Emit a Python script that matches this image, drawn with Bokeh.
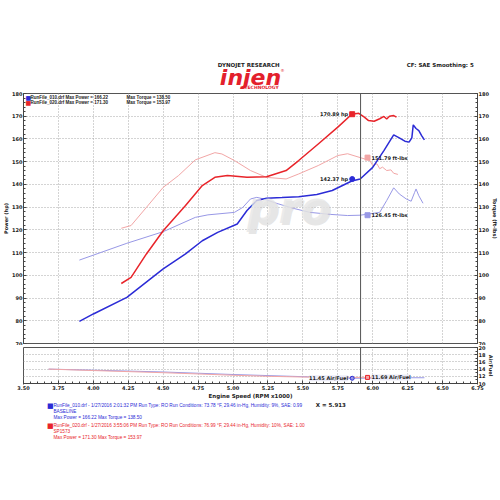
from bokeh.plotting import figure
from bokeh.models import Range1d, LinearAxis, FixedTicker, Span, Label, Grid, NumeralTickFormatter
from bokeh.layouts import column
from bokeh.embed import file_html
from bokeh.resources import INLINE
from bokeh.core.properties import value

# ---------------- data ----------------
X_TICKS = [3.50, 3.75, 4.00, 4.25, 4.50, 4.75, 5.00, 5.25, 5.50, 5.75, 6.00, 6.25, 6.50, 6.75]
HP_TICKS = [70, 80, 90, 100, 110, 120, 130, 140, 150, 160, 170, 180]
AF_TICKS = [10, 12, 14, 16, 18, 20]

BLUE_HP_RPM = [3.90, 4.00, 4.24, 4.50, 4.66, 4.78, 4.89, 5.03, 5.10, 5.17, 5.24, 5.35, 5.47, 5.60, 5.71,
               5.85, 5.91, 6.00, 6.08, 6.15, 6.19, 6.23, 6.26, 6.28, 6.29, 6.31, 6.33, 6.35, 6.37]
BLUE_HP = [79.7, 83.0, 90.3, 102.8, 109.4, 115.2, 118.9, 122.6, 128.5, 132.9, 133.9, 134.2, 134.6, 135.6, 137.3,
           141.5, 142.4, 147.5, 154.9, 161.8, 160.5, 159.0, 158.6, 160.5, 166.2, 164.6, 163.7, 161.5, 159.6]

RED_HP_RPM = [4.20, 4.27, 4.38, 4.50, 4.66, 4.78, 4.87, 4.96, 5.10, 5.24, 5.38, 5.47, 5.61, 5.75, 5.85,
              5.90, 5.94, 5.97, 6.01, 6.05, 6.08, 6.10, 6.12, 6.15, 6.17]
RED_HP = [96.4, 99.1, 109.4, 119.6, 130.7, 139.5, 143.1, 143.9, 143.1, 143.4, 146.1, 150.5, 157.8, 165.2, 170.9,
          171.3, 169.6, 168.1, 167.8, 168.9, 169.9, 168.8, 170.0, 170.3, 169.6]

BLUE_TQ_RPM = [3.90, 4.24, 4.50, 4.73, 4.82, 5.01, 5.07, 5.125, 5.17, 5.22, 5.31, 5.43, 5.55, 5.70, 5.82,
               5.91, 6.05, 6.10, 6.15, 6.19, 6.24, 6.275, 6.30, 6.31, 6.33, 6.36]
BLUE_TQ = [106.7, 114.1, 119.2, 125.5, 126.6, 127.7, 129.9, 133.6, 134.3, 133.6, 131.7, 129.5, 127.7, 126.8, 126.3,
           126.45, 127.7, 132.9, 138.5, 135.8, 133.6, 132.6, 136.5, 138.0, 135.0, 131.7]

RED_TQ_RPM = [4.20, 4.27, 4.38, 4.50, 4.61, 4.73, 4.87, 4.92, 5.01, 5.125, 5.24, 5.38, 5.47, 5.61, 5.75, 5.82,
              5.91, 5.98, 6.00, 6.03, 6.05, 6.07, 6.10, 6.13, 6.15, 6.18]
RED_TQ = [120.7, 121.9, 129.9, 138.7, 143.9, 150.8, 153.97, 153.4, 150.5, 146.1, 143.1, 142.4, 144.6, 148.3, 152.7, 153.5,
          151.8, 150.5, 148.3, 149.1, 146.9, 147.6, 146.1, 146.4, 144.9, 144.4]

BLUE_AF_RPM = [3.68, 4.00, 4.50, 5.00, 5.25, 5.50, 5.75, 5.85, 6.00, 6.20, 6.37]
BLUE_AF = [14.0, 13.7, 13.2, 12.5, 12.2, 11.9, 11.6, 11.45, 11.5, 11.6, 11.6]
RED_AF_RPM = [3.68, 4.00, 4.50, 5.00, 5.25, 5.50, 5.75, 5.96, 6.17]
RED_AF = [14.0, 13.6, 13.0, 12.3, 12.0, 11.8, 11.7, 11.69, 11.7]

CURSOR = 5.913
READ_HP = [142.37, 170.89]
READ_TQ = [126.45, 151.79]
READ_AF = [11.45, 11.69]

RUN_TEXT = [
    ["RunFile_010.drf - 1/27/2016 2:01:32 PM  Run Type: RO  Run Conditions: 73.78 °F, 29.46 in-Hg,  Humidity:  9%,  SAE: 0.99",
     "BASELINE", "Max Power = 166.22  Max Torque = 138.50"],
    ["RunFile_020.drf - 1/27/2016 3:55:06 PM  Run Type: RO  Run Conditions: 76.99 °F, 29.44 in-Hg,  Humidity:  10%,  SAE: 1.00",
     "SP1573", "Max Power = 171.30  Max Torque = 153.97"],
]

# ---------------- styling / layout ----------------
BLUE = "#2b2bd6"
RED = "#e8242a"
BLUE_L = "#9898e6"
RED_L = "#f2a6a6"
FONT = "DejaVu Sans"

W = 500
LB, RB = 18, 18
HEAD_H = 91
FH1, TOP1, BOT1 = 250, 2, 2
FH2, TOP2, BOT2 = 39, 2, 15
H1 = TOP1 + FH1 + BOT1
H2 = TOP2 + FH2 + BOT2
LEG_Y0 = HEAD_H + H1 + H2
LEG_H = 500 - LEG_Y0

GRID_KW = dict(grid_line_color="#a8a8a8", grid_line_dash="1 2", grid_line_width=1)


def xpix(rpm):
    return LB + (rpm - X_TICKS[0]) / (X_TICKS[-1] - X_TICKS[0]) * (W - LB - RB)


def style_axis(ax, label_size="5px"):
    ax.axis_line_color = "#444444"
    ax.major_tick_line_color = "#444444"
    ax.minor_tick_line_color = "#444444"
    ax.major_tick_in = 3
    ax.major_tick_out = 0
    ax.minor_tick_in = 2
    ax.minor_tick_out = 0
    ax.major_label_text_font = FONT
    ax.major_label_text_font_style = "bold"
    ax.major_label_text_font_size = label_size
    ax.major_label_text_color = "#222222"
    ax.major_label_standoff = 1
    ax.axis_label_text_font = FONT
    ax.axis_label_text_font_style = "bold"
    ax.axis_label_text_font_size = "5px"
    ax.axis_label_text_color = "#222222"
    ax.axis_label_standoff = 0


def text_fig(height, y_top):
    f = figure(width=W, height=height, x_range=Range1d(0, W), y_range=Range1d(y_top + height, y_top),
               x_axis_type=None, y_axis_type=None, output_backend="svg", toolbar_location=None,
               min_border=0, min_border_left=0, min_border_right=0, min_border_top=0, min_border_bottom=0)
    f.outline_line_color = None
    f.background_fill_color = "white"
    f.border_fill_color = "white"
    f.xgrid.visible = False
    f.ygrid.visible = False
    return f


# ---------------- header ----------------
h = text_fig(HEAD_H, 0)
h.text([248], [64], text=["DYNOJET RESEARCH"], text_align="center", text_baseline="middle",
       text_font=value(FONT), text_font_size="5.5px", text_font_style="bold", text_color="#222222")
h.text([250], [76.5], text=["injen"], text_align="center", text_baseline="middle",
       text_font=value(FONT), text_font_size="22px", text_font_style="bold italic", text_color="#e3202c")
h.text([283], [70], text=["®"], text_align="left", text_baseline="middle",
       text_font=value(FONT), text_font_size="4px", text_color="#e3202c")
h.text([281], [87], text=["TECHNOLOGY"], text_align="right", text_baseline="middle",
       text_font=value(FONT), text_font_size="4.5px", text_font_style="bold", text_color="#e3202c")
h.text([498], [64], text=["CF: SAE  Smoothing: 5"], text_align="right", text_baseline="middle",
       text_font=value(FONT), text_font_size="5.5px", text_font_style="bold", text_color="#222222")

# ---------------- main panel ----------------
p = figure(width=W, height=H1, x_range=Range1d(X_TICKS[0], X_TICKS[-1]), y_range=Range1d(HP_TICKS[0], HP_TICKS[-1]),
           x_axis_type=None, y_axis_type=None, output_backend="svg", toolbar_location=None,
           min_border_left=LB, min_border_right=RB, min_border_top=TOP1, min_border_bottom=BOT1)
p.background_fill_color = "white"
p.border_fill_color = "white"
p.outline_line_color = "#555555"

hp_minor = list(range(70, 181, 2))
ax_l = LinearAxis(ticker=FixedTicker(ticks=HP_TICKS, minor_ticks=hp_minor), axis_label="Power (hp)")
ax_r = LinearAxis(ticker=FixedTicker(ticks=HP_TICKS, minor_ticks=hp_minor), axis_label="Torque (ft-lbs)")
style_axis(ax_l)
style_axis(ax_r)
p.add_layout(ax_l, "left")
p.add_layout(ax_r, "right")
p.add_layout(Grid(dimension=0, ticker=FixedTicker(ticks=X_TICKS), **GRID_KW))
p.add_layout(Grid(dimension=1, ticker=FixedTicker(ticks=HP_TICKS), **GRID_KW))

# watermark
p.add_layout(Label(x=5.10, y=118.5, text="pro", text_font=FONT, text_font_size="44px",
                   text_font_style="bold italic", text_color="#c8c8c8", text_alpha=0.45,
                   x_offset=2, y_offset=-2))
p.add_layout(Label(x=5.10, y=118.5, text="pro", text_font=FONT, text_font_size="44px",
                   text_font_style="bold italic", text_color="#e6e6e6", text_alpha=0.8))

p.line(BLUE_TQ_RPM, BLUE_TQ, line_color=BLUE_L, line_width=1)
p.line(RED_TQ_RPM, RED_TQ, line_color=RED_L, line_width=1)
p.line(BLUE_HP_RPM, BLUE_HP, line_color=BLUE, line_width=1.5)
p.line(RED_HP_RPM, RED_HP, line_color=RED, line_width=1.5)

p.add_layout(Span(location=CURSOR, dimension="height", line_color="#555555", line_width=1))

hp_x = CURSOR - 0.06
tq_x = CURSOR + 0.05
p.scatter([hp_x], [READ_HP[0]], marker="circle", size=5, fill_color=BLUE, line_color=BLUE)
p.scatter([hp_x], [READ_HP[1]], marker="square", size=5, fill_color=RED, line_color=RED)
p.scatter([tq_x], [READ_TQ[0]], marker="square", size=5, fill_color=BLUE_L, line_color=BLUE_L)
p.scatter([tq_x], [READ_TQ[1]], marker="square", size=5, fill_color=RED_L, line_color=RED_L)

lab_kw = dict(text_font=FONT, text_font_size="5px", text_font_style="bold", text_color="#222222",
              text_baseline="middle")
for v in READ_HP:
    p.add_layout(Label(x=hp_x, y=v, text=f"{v:.2f} hp", x_offset=-4, text_align="right", **lab_kw))
for v in READ_TQ:
    p.add_layout(Label(x=tq_x, y=v, text=f"{v:.2f} ft-lbs", x_offset=4, text_align="left", **lab_kw))

FT1 = HEAD_H + TOP1


def sy1(py):
    return FH1 + (FT1 - py)


top_rows = [("RunFile_010.drf Max Power = 166.22", "Max Torque = 138.50", BLUE, 97.3),
            ("RunFile_020.drf Max Power = 171.30", "Max Torque = 153.97", RED, 102.3)]
for t1, t2, c, py in top_rows:
    p.add_layout(Label(x=20 - LB, y=sy1(py), x_units="screen", y_units="screen", text="■",
                       text_align="left", text_baseline="middle", text_font=FONT, text_font_size="6px",
                       text_color=c))
    p.add_layout(Label(x=25 - LB, y=sy1(py), x_units="screen", y_units="screen", text=t1,
                       text_align="left", text_baseline="middle", text_font="Liberation Sans", text_font_size="4.5px",
                       text_font_style="bold", text_color="#222222"))
    p.add_layout(Label(x=121 - LB, y=sy1(py), x_units="screen", y_units="screen", text=t2,
                       text_align="left", text_baseline="middle", text_font="Liberation Sans", text_font_size="4.5px",
                       text_font_style="bold", text_color="#222222"))

# ---------------- air/fuel panel ----------------
q = figure(width=W, height=H2, x_range=p.x_range, y_range=Range1d(AF_TICKS[0], AF_TICKS[-1]),
           x_axis_type=None, y_axis_type=None, output_backend="svg", toolbar_location=None,
           min_border_left=LB, min_border_right=RB, min_border_top=TOP2, min_border_bottom=BOT2)
q.background_fill_color = "white"
q.border_fill_color = "white"
q.outline_line_color = "#555555"

x_minor = [X_TICKS[0] + 0.05 * i for i in range(66)]
ax_b = LinearAxis(ticker=FixedTicker(ticks=X_TICKS, minor_ticks=x_minor), axis_label="Engine Speed (RPM x1000)",
                  formatter=NumeralTickFormatter(format="0.00"))
style_axis(ax_b)
ax_b.major_tick_out = 1
ax_b.axis_label_text_font_size = "5.5px"
q.add_layout(ax_b, "below")
ax_af = LinearAxis(ticker=FixedTicker(ticks=AF_TICKS, minor_ticks=list(range(10, 21))), axis_label="Air/Fuel")
style_axis(ax_af, "5px")
q.add_layout(ax_af, "right")
q.add_layout(Grid(dimension=0, ticker=FixedTicker(ticks=X_TICKS), **GRID_KW))
q.add_layout(Grid(dimension=1, ticker=FixedTicker(ticks=AF_TICKS), **GRID_KW))

q.line(BLUE_AF_RPM, BLUE_AF, line_color=BLUE_L, line_width=1)
q.line(RED_AF_RPM, RED_AF, line_color=RED_L, line_width=1)
q.add_layout(Span(location=CURSOR, dimension="height", line_color="#555555", line_width=1))
q.scatter([hp_x], [READ_AF[0]], marker="circle", size=4, fill_color=BLUE_L, line_color=BLUE)
q.scatter([tq_x], [READ_AF[1]], marker="square", size=4, fill_color=RED_L, line_color=RED)
q.add_layout(Label(x=hp_x, y=READ_AF[0], text=f"{READ_AF[0]:.2f} Air/Fuel", x_offset=-4, text_align="right",
                   background_fill_color="#ececf8", **lab_kw))
q.add_layout(Label(x=tq_x, y=READ_AF[1], text=f"{READ_AF[1]:.2f} Air/Fuel", x_offset=4, text_align="left",
                   background_fill_color="#ececf8", **lab_kw))

# ---------------- bottom legend ----------------
g = text_fig(LEG_H, LEG_Y0)
g.text([xpix(CURSOR) - 24], [LEG_Y0 + 3], text=[f"X = {CURSOR:.3f}"], text_align="center",
       text_baseline="middle", text_font=value(FONT), text_font_size="5.5px", text_font_style="bold",
       text_color="#222222")
for c, py0, lines in [(BLUE, 405, RUN_TEXT[0]), (RED, 425, RUN_TEXT[1])]:
    g.text([26], [py0], text=["■"], text_align="left", text_baseline="middle",
           text_font=value(FONT), text_font_size="7px", text_color=c)
    g.text([33] * len(lines), [py0 + 6 * i for i in range(len(lines))], text=lines, text_align="left",
           text_baseline="middle", text_font=value("Liberation Sans"), text_font_size="4.7px", text_color=c)

layout = column(h, p, q, g, spacing=0)
open("out.html", "w").write(file_html(layout, INLINE))
